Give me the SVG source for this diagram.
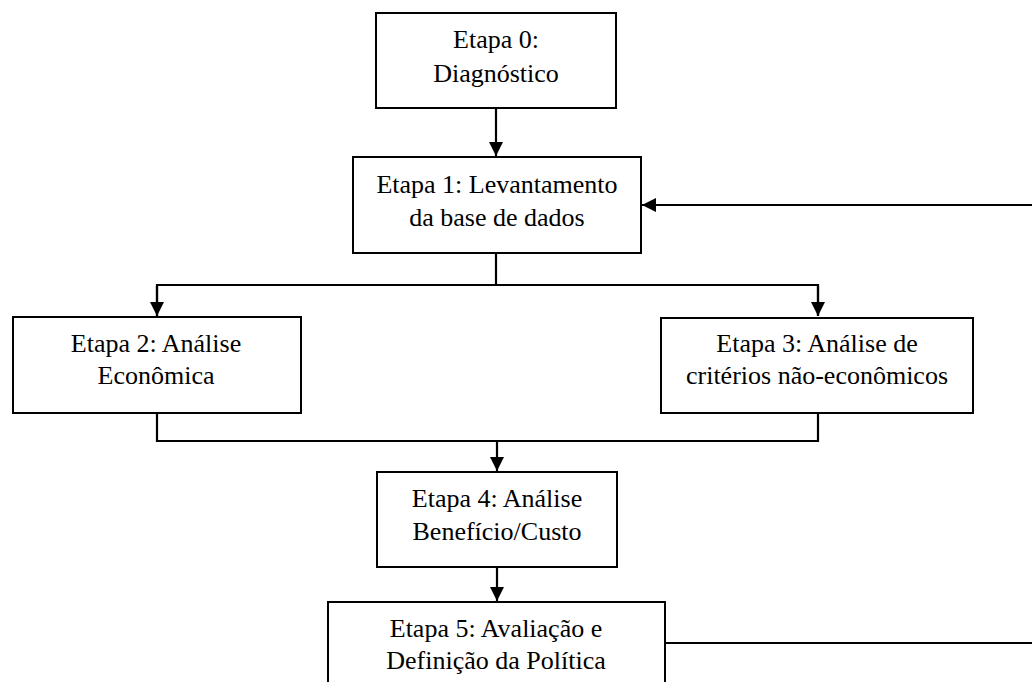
<svg xmlns="http://www.w3.org/2000/svg" width="1032" height="682" viewBox="0 0 1032 682">
  <style>
    .box { fill: #ffffff; stroke: #000000; stroke-width: 2; }
    .lbl { font-family: 'Liberation Serif', Tinos, 'Times New Roman', 'DejaVu Serif', serif; font-size: 26px; fill: #000000; text-anchor: middle; }
    .wire { fill: none; stroke: #000000; stroke-width: 2.2; }
  </style>
  <defs>
    <marker id="arrow" viewBox="0 0 14 14" refX="14" refY="7" markerWidth="14" markerHeight="14" orient="auto" markerUnits="userSpaceOnUse">
      <path d="M0,0 L14,7 L0,14 Z" fill="#000000"/>
    </marker>
  </defs>
  <rect width="1032" height="682" fill="#ffffff"/>

  <g id="connectors">
    <!-- Etapa 0 to Etapa 1 -->
    <line class="wire" x1="496" y1="108" x2="496" y2="156" marker-end="url(#arrow)"/>
    <!-- Etapa 1 splits into Etapas 2 and 3 -->
    <polyline class="wire" points="496,253 496,285"/>
    <polyline class="wire" points="157,316 157,285 818,285 818,316"/>
    <line class="wire" x1="157" y1="286" x2="157" y2="316" marker-end="url(#arrow)"/>
    <line class="wire" x1="818" y1="286" x2="818" y2="316" marker-end="url(#arrow)"/>
    <!-- Etapas 2 and 3 merge into Etapa 4 -->
    <polyline class="wire" points="157,413 157,441 818,441 818,413"/>
    <line class="wire" x1="497" y1="441" x2="497" y2="471" marker-end="url(#arrow)"/>
    <!-- Etapa 4 to Etapa 5 -->
    <line class="wire" x1="497" y1="567" x2="497" y2="601" marker-end="url(#arrow)"/>
    <!-- feedback loop from Etapa 5 back to Etapa 1 -->
    <line class="wire" x1="665" y1="643" x2="1032" y2="643"/>
    <line class="wire" x1="1032" y1="205" x2="642" y2="205" marker-end="url(#arrow)"/>
  </g>

  <g id="etapa0">
    <rect class="box" x="376" y="13" width="240" height="95"/>
    <text class="lbl" x="496" y="48">Etapa 0:</text>
    <text class="lbl" x="496" y="81.5">Diagnóstico</text>
  </g>

  <g id="etapa1">
    <rect class="box" x="353" y="157" width="288" height="96"/>
    <text class="lbl" x="497" y="193">Etapa 1: Levantamento</text>
    <text class="lbl" x="497" y="226">da base de dados</text>
  </g>

  <g id="etapa2">
    <rect class="box" x="13" y="317" width="288" height="96"/>
    <text class="lbl" x="156" y="352">Etapa 2: Análise</text>
    <text class="lbl" x="156" y="384">Econômica</text>
  </g>

  <g id="etapa3">
    <rect class="box" x="661" y="318" width="312" height="95"/>
    <text class="lbl" x="817" y="352">Etapa 3: Análise de</text>
    <text class="lbl" x="817" y="384">critérios não-econômicos</text>
  </g>

  <g id="etapa4">
    <rect class="box" x="377" y="472" width="240" height="95"/>
    <text class="lbl" x="497" y="507">Etapa 4: Análise</text>
    <text class="lbl" x="497" y="540">Benefício/Custo</text>
  </g>

  <g id="etapa5">
    <rect class="box" x="328" y="602" width="337" height="100"/>
    <text class="lbl" x="496" y="637">Etapa 5: Avaliação e</text>
    <text class="lbl" x="496" y="669">Definição da Política</text>
  </g>
</svg>
